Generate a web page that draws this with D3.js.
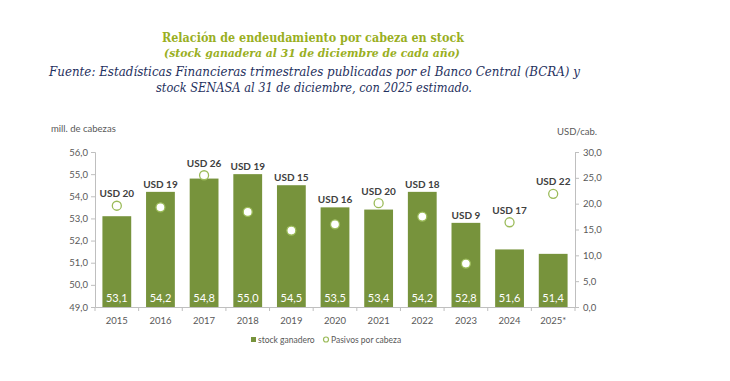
<!DOCTYPE html>
<html><head><meta charset="utf-8">
<script src="https://cdn.jsdelivr.net/npm/d3@7"></script>
<style>body{margin:0;background:#fff}svg{display:block}</style>
</head><body>
<svg id="c" width="730" height="381"></svg>
<script>
const years = ["2015","2016","2017","2018","2019","2020","2021","2022","2023","2024","2025*"];
const stock = [53.1,54.2,54.8,55.0,54.5,53.5,53.4,54.2,52.8,51.6,51.4];
const pasivos = [19.6,19.3,25.5,18.4,14.8,16.0,20.1,17.5,8.4,16.4,21.9];
const pasivosLabels = ["USD 20","USD 19","USD 26","USD 19","USD 15","USD 16","USD 20","USD 18","USD 9","USD 17","USD 22"];
const leftTicks = [49,50,51,52,53,54,55,56];
const rightTicks = [0,5,10,15,20,25,30];

const svg = d3.select("#c");
const F = "Lato, 'Open Sans', sans-serif";
const fmt = v => v.toFixed(1).replace(".", ",");
const m = {l:95, r:575, t:152, b:307};

const x = d3.scaleBand().domain(years).range([m.l, m.r]).paddingInner(0.34).paddingOuter(0.17);
const yL = d3.scaleLinear().domain([49,56]).range([m.b, m.t]);
const yR = d3.scaleLinear().domain([0,30]).range([m.b, m.t]);

// Titles
const tt = svg.append("g");
tt.append("text").attr("x",313).attr("y",42).attr("text-anchor","middle")
  .attr("font-family","'DejaVu Serif', serif").attr("font-weight","bold").attr("font-size",12)
  .attr("fill","#9aaf1f").attr("textLength",302).attr("lengthAdjust","spacingAndGlyphs")
  .text("Relación de endeudamiento por cabeza en stock");
tt.append("text").attr("x",312).attr("y",56.5).attr("text-anchor","middle")
  .attr("font-family","'DejaVu Serif', serif").attr("font-weight","bold").attr("font-style","italic").attr("font-size",11.5)
  .attr("fill","#9aaf1f").attr("textLength",296).attr("lengthAdjust","spacingAndGlyphs")
  .text("(stock ganadera al 31 de diciembre de cada año)");
tt.append("text").attr("x",314.5).attr("y",75.5).attr("text-anchor","middle")
  .attr("font-family","'DejaVu Serif', serif").attr("font-style","italic").attr("font-size",13)
  .attr("fill","#1f3160").attr("textLength",531).attr("lengthAdjust","spacingAndGlyphs")
  .text("Fuente: Estadísticas Financieras trimestrales publicadas por el Banco Central (BCRA) y");
tt.append("text").attr("x",314).attr("y",91.5).attr("text-anchor","middle")
  .attr("font-family","'DejaVu Serif', serif").attr("font-style","italic").attr("font-size",13)
  .attr("fill","#1f3160").attr("textLength",316).attr("lengthAdjust","spacingAndGlyphs")
  .text("stock SENASA al 31 de diciembre, con 2025 estimado.");

// Axis titles
svg.append("text").attr("x",51).attr("y",132).attr("font-family",F).attr("font-size",9.5).attr("fill","#595959").text("mill. de cabezas");
svg.append("text").attr("x",597).attr("y",135).attr("text-anchor","end").attr("font-family",F).attr("font-size",9.5).attr("fill","#595959").text("USD/cab.");

// Axes
const axColor = "#bfbfbf";
const gL = svg.append("g").attr("transform",`translate(${m.l},0)`)
  .call(d3.axisLeft(yL).tickValues(leftTicks).tickFormat(fmt).tickSize(4).tickPadding(3));
const gR = svg.append("g").attr("transform",`translate(${m.r},0)`)
  .call(d3.axisRight(yR).tickValues(rightTicks).tickFormat(fmt).tickSize(4).tickPadding(4));
[gL,gR].forEach(g=>{
  g.select(".domain").attr("stroke",axColor);
  g.selectAll(".tick line").attr("stroke",axColor);
  g.selectAll("text").attr("font-family",F).attr("font-size",9.5).attr("fill","#595959");
});

// bars
svg.append("g").selectAll("rect").data(years).join("rect")
  .attr("x",d=>x(d)).attr("width",x.bandwidth())
  .attr("y",(d,i)=>yL(stock[i])).attr("height",(d,i)=>yL(49)-yL(stock[i]))
  .attr("fill","#77933c");

// bottom axis
const gB = svg.append("g").attr("transform",`translate(0,${m.b})`)
  .call(d3.axisBottom(x).tickSize(0).tickPadding(10));
gB.select(".domain").attr("stroke",axColor);
gB.selectAll("text").attr("font-family",F).attr("font-size",9.5).attr("fill","#595959");
gB.append("g").selectAll("line").data(d3.range(years.length+1)).join("line")
  .attr("x1",i=>m.l+i*(m.r-m.l)/years.length).attr("x2",i=>m.l+i*(m.r-m.l)/years.length)
  .attr("y1",0).attr("y2",4).attr("stroke",axColor);

// value labels in bars
svg.append("g").selectAll("text").data(years).join("text")
  .attr("x",d=>x(d)+x.bandwidth()/2).attr("y",m.b-5).attr("text-anchor","middle")
  .attr("font-family",F).attr("font-size",11).attr("fill","#ffffff")
  .text((d,i)=>fmt(stock[i]));

// dots
const r = 4.5;
svg.append("g").selectAll("circle").data(years).join("circle")
  .attr("cx",d=>x(d)+x.bandwidth()/2).attr("cy",(d,i)=>yR(pasivos[i])).attr("r",r)
  .attr("fill","#ffffff").attr("stroke","#9bbb59").attr("stroke-width",1.3);

// USD labels
svg.append("g").selectAll("text").data(years).join("text")
  .attr("x",d=>x(d)+x.bandwidth()/2)
  .attr("y",(d,i)=>Math.min(yL(stock[i]), yR(pasivos[i])-r)-4)
  .attr("text-anchor","middle").attr("font-family",F).attr("font-weight","bold").attr("font-size",10)
  .attr("fill","#404040").text((d,i)=>pasivosLabels[i]);

// legend
const lg = svg.append("g");
lg.append("rect").attr("x",251).attr("y",337).attr("width",5).attr("height",5).attr("fill","#77933c");
lg.append("text").attr("x",258).attr("y",342.5).attr("font-family",F).attr("font-size",8.5).attr("fill","#595959").text("stock ganadero");
lg.append("circle").attr("cx",326).attr("cy",339.5).attr("r",2.5).attr("fill","#fff").attr("stroke","#9bbb59").attr("stroke-width",1.2);
lg.append("text").attr("x",331).attr("y",342.5).attr("font-family",F).attr("font-size",8.5).attr("fill","#595959").text("Pasivos por cabeza");
</script>
</body></html>
